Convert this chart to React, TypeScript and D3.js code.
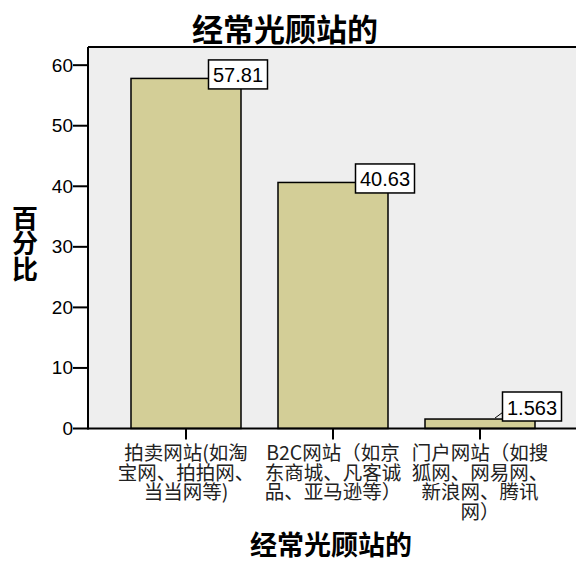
import React from "react";
import * as d3 from "d3";

const categories = ["拍卖网站", "B2C网站", "门户网站"];
const categoryLines = [
  ["拍卖网站(如淘", "宝网、拍拍网、", "当当网等)"],
  ["B2C网站（如京", "东商城、凡客诚", "品、亚马逊等）"],
  ["门户网站（如搜", "狐网、网易网、", "新浪网、腾讯", "网）"],
];
const values = [57.81, 40.63, 1.563];
const valueLabels = ["57.81", "40.63", "1.563"];
const yTicks = [0, 10, 20, 30, 40, 50, 60];
const title = "经常光顾站的";
const xTitle = "经常光顾站的";
const yTitle = ["百", "分", "比"];

const W = 576;
const H = 561;
const left = 88;
const right = 578;
const top = 47;
const bottom = 428.5;

export default function App() {
  const x = d3
    .scaleBand<string>()
    .domain(categories)
    .range([left, right])
    .paddingInner(37 / 147)
    .paddingOuter(0.2925);
  const y = d3.scaleLinear().domain([0, 63]).range([bottom, top]);
  const sans = "Arial, 'Liberation Sans', sans-serif";
  const cjk = "'Noto Sans CJK SC', sans-serif";

  return (
    <svg
      width={W}
      height={H}
      style={{ position: "absolute", left: 0, top: 0, background: "#fff" }}
    >
      <rect x={left} y={top} width={right - left} height={bottom - top} fill="#EEEEEE" />
      <line x1={left} x2={W} y1={top} y2={top} stroke="#000" strokeWidth={2} />
      {categories.map((c, i) => {
        const bx = x(c)!;
        const bw = x.bandwidth();
        const by = y(values[i]);
        return (
          <rect
            key={c}
            x={bx}
            y={by}
            width={bw}
            height={bottom - by}
            fill="#D3CE97"
            stroke="#000"
            strokeWidth={1.5}
          />
        );
      })}
      {/* axes */}
      <line x1={left} x2={left} y1={top} y2={bottom + 1} stroke="#000" strokeWidth={2} />
      <line x1={left} x2={W} y1={bottom} y2={bottom} stroke="#000" strokeWidth={2} />
      {yTicks.map((t) => (
        <g key={t}>
          <line x1={left - 15} x2={left} y1={y(t)} y2={y(t)} stroke="#000" strokeWidth={2} />
          <text
            x={left - 15}
            y={y(t)}
            textAnchor="end"
            dominantBaseline="central"
            fontFamily={sans}
            fontSize={19}
            fill="#000"
          >
            {t}
          </text>
        </g>
      ))}
      {categories.map((c, i) => {
        const cx = x(c)! + x.bandwidth() / 2;
        return (
          <g key={c}>
            <line x1={cx} x2={cx} y1={bottom} y2={bottom + 11} stroke="#000" strokeWidth={2} />
            <text
              textAnchor="middle"
              fontFamily={cjk}
              fontSize={19.5}
              fill="#222"
            >
              {categoryLines[i].map((ln, j) => (
                <tspan key={j} x={cx} y={460 + j * 19.5}>
                  {ln}
                </tspan>
              ))}
            </text>
          </g>
        );
      })}
      {/* value labels */}
      {categories.map((c, i) => {
        const bx = x(c)! + x.bandwidth();
        const by = y(values[i]);
        const natural = by - 4;
        const cy = Math.min(natural, bottom - 22);
        const bw = 59;
        const bh = 29;
        const cx = bx - 3;
        return (
          <g key={c}>
            {cy < natural && (
              <line
                x1={bx - 40}
                y1={by - 1}
                x2={cx - bw / 2}
                y2={cy + 6}
                stroke="#000"
                strokeWidth={1}
              />
            )}
            <rect
              x={cx - bw / 2}
              y={cy - bh / 2}
              width={bw}
              height={bh}
              fill="#fff"
              stroke="#000"
              strokeWidth={1.5}
            />
            <text
              x={cx}
              y={cy + 1}
              textAnchor="middle"
              dominantBaseline="central"
              fontFamily={sans}
              fontSize={20}
              fill="#000"
            >
              {valueLabels[i]}
            </text>
          </g>
        );
      })}
      {/* titles */}
      <text
        x={285}
        y={27}
        textAnchor="middle"
        dominantBaseline="central"
        fontFamily={cjk}
        fontWeight={700}
        fontSize={31}
        fill="#000"
      >
        {title}
      </text>
      <text
        x={331}
        y={543}
        textAnchor="middle"
        dominantBaseline="central"
        fontFamily={cjk}
        fontWeight={700}
        fontSize={27}
        fill="#000"
      >
        {xTitle}
      </text>
      {yTitle.map((ch, i) => (
        <text
          key={i}
          x={25}
          y={216 + i * 25.5}
          textAnchor="middle"
          dominantBaseline="central"
          fontFamily={cjk}
          fontWeight={700}
          fontSize={26}
          fill="#000"
        >
          {ch}
        </text>
      ))}
    </svg>
  );
}
